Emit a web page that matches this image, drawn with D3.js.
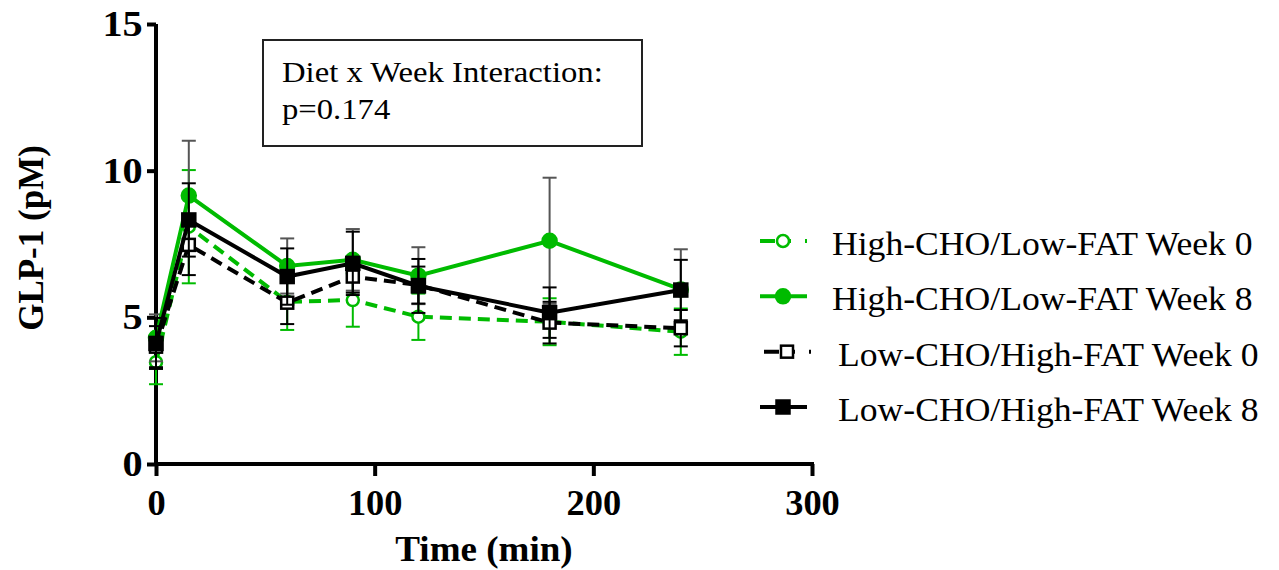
<!DOCTYPE html>
<html>
<head>
<meta charset="utf-8">
<script src="https://cdn.jsdelivr.net/npm/d3@7"></script>
<style>
  body { margin: 0; background: #fff; }
  svg { display: block; }
</style>
</head>
<body>
<script>
// time points (min)
var times = [0, 15, 60, 90, 120, 180, 240];

// GLP-1 means and SEM
var hcW0 = [3.47, 8.09, 5.53, 5.59, 5.02, 4.85, 4.51];
var hcW0Sem = [0.75, 1.93, 0.96, 0.91, 0.79, 0.80, 0.79];
var hcW8 = [4.30, 9.15, 6.75, 6.96, 6.42, 7.61, 5.95];
var hcW8Sem = [0.80, 1.87, 0.94, 1.05, 0.97, 2.15, 1.37];
var lcW0 = [4.00, 7.47, 5.50, 6.39, 6.10, 4.82, 4.63];
var lcW0Sem = [0.70, 1.03, 0.73, 0.55, 0.63, 0.71, 0.62];
var lcW8 = [4.11, 8.32, 6.39, 6.84, 6.07, 5.16, 5.93];
var lcW8Sem = [0.87, 1.25, 0.96, 1.08, 0.92, 0.86, 1.03];

var seriesNames = ["High-CHO/Low-FAT Week 0", "High-CHO/Low-FAT Week 8",
                   "Low-CHO/High-FAT Week 0", "Low-CHO/High-FAT Week 8"];
var xTicks = [0, 100, 200, 300];
var yTicks = [0, 5, 10, 15];

var green = "#00bb00";
var series = [
  { name: seriesNames[0], vals: hcW0, sem: hcW0Sem, color: green, bar: green, dash: "12,7", shape: "circle", fill: false },
  { name: seriesNames[1], vals: hcW8, sem: hcW8Sem, color: green, bar: "#555", dash: null, shape: "circle", fill: true },
  { name: seriesNames[2], vals: lcW0, sem: lcW0Sem, color: "#000", bar: "#000", dash: "12,7", shape: "square", fill: false },
  { name: seriesNames[3], vals: lcW8, sem: lcW8Sem, color: "#000", bar: "#000", dash: null, shape: "square", fill: true }
];

var W = 1279, H = 570;
var svg = d3.select("body").append("svg").attr("width", W).attr("height", H);

var x = d3.scaleLinear().domain([0, 300]).range([156, 812]);
var y = d3.scaleLinear().domain([0, 15]).range([464, 24]);

var serif = "'Liberation Serif', 'Times New Roman', serif";

// text stretched a little sideways like the source figure
function label(tx, ty, str, size, bold, sx, anchor) {
  return svg.append("text")
    .attr("transform", "translate(" + tx + "," + ty + ") scale(" + sx + ",1)")
    .attr("text-anchor", anchor || "start")
    .style("font-family", serif).style("font-weight", bold ? "bold" : "normal")
    .style("font-size", size + "px")
    .text(str);
}

// axes
var yAxis = svg.append("g").attr("transform", "translate(156,0)")
  .call(d3.axisLeft(y).tickValues(yTicks).tickSize(9));
var xAxis = svg.append("g").attr("transform", "translate(0,464)")
  .call(d3.axisBottom(x).tickValues(xTicks).tickSize(12));

[yAxis, xAxis].forEach(function (a) {
  a.select(".domain").attr("stroke", "#000").attr("stroke-width", 4);
  a.selectAll(".tick line").attr("stroke", "#000").attr("stroke-width", 4);
  a.selectAll("text").attr("fill", "#000")
    .style("font-family", serif).style("font-weight", "bold").style("font-size", "35px");
});
yAxis.select(".domain").attr("d", "M0,24V466");
xAxis.select(".domain").attr("d", "M154,0H814");
yAxis.selectAll(".tick text").attr("x", -11.6).attr("dy", "0.33em").attr("transform", "scale(1.15,1)");
xAxis.selectAll(".tick text").attr("y", 51).attr("dy", 0).attr("transform", "scale(1.04,1)");

// axis titles
label(484, 561, "Time (min)", 36, true, 1.03, "middle");
svg.append("text").attr("transform", "translate(43,238) rotate(-90)").attr("text-anchor", "middle")
  .style("font-family", serif).style("font-weight", "bold").style("font-size", "35px")
  .text("GLP-1 (pM)");

// annotation box
svg.append("rect").attr("x", 263).attr("y", 40).attr("width", 379).attr("height", 106)
  .attr("fill", "none").attr("stroke", "#222").attr("stroke-width", 2);
label(282, 82, "Diet x Week Interaction:", 30, false, 1.09);
label(282, 119, "p=0.174", 30, false, 1.09);

function drawMarker(g, s, cx, cy) {
  if (s.shape === "circle") {
    g.append("circle").attr("cx", cx).attr("cy", cy).attr("r", s.fill ? 7 : 6)
      .attr("fill", s.fill ? s.color : "#fff").attr("stroke", s.color).attr("stroke-width", 2.5);
  } else {
    var sz = s.fill ? 13 : 12;
    g.append("rect").attr("x", cx - sz / 2).attr("y", cy - sz / 2).attr("width", sz).attr("height", sz)
      .attr("fill", s.fill ? s.color : "#fff").attr("stroke", s.color).attr("stroke-width", 2.5);
  }
}

var line = d3.line().x(function (d) { return x(d[0]); }).y(function (d) { return y(d[1]); });

series.forEach(function (s) {
  var g = svg.append("g");
  var pts = times.map(function (t, i) { return [t, s.vals[i], s.sem[i]]; });
  // error bars
  pts.forEach(function (p) {
    var cx = x(p[0]), top = y(p[1] + p[2]), bot = y(p[1] - p[2]);
    g.append("line").attr("x1", cx).attr("x2", cx).attr("y1", top).attr("y2", bot)
      .attr("stroke", s.bar).attr("stroke-width", 2);
    [top, bot].forEach(function (yy) {
      g.append("line").attr("x1", cx - 7).attr("x2", cx + 7).attr("y1", yy).attr("y2", yy)
        .attr("stroke", s.bar).attr("stroke-width", 2);
    });
  });
  g.append("path").datum(pts).attr("d", line).attr("fill", "none")
    .attr("stroke", s.color).attr("stroke-width", 4)
    .attr("stroke-dasharray", s.dash);
  pts.forEach(function (p) { drawMarker(g, s, x(p[0]), y(p[1])); });
});

// legend
var legY = d3.scaleLinear().domain([0, 3]).range([241, 407]);
series.forEach(function (s, i) {
  var g = svg.append("g");
  var ly = legY(i);
  var off = s.shape === "square" && !s.fill ? 4 : 0;
  g.append("line").attr("x1", 760 + off).attr("x2", 807 + off).attr("y1", ly).attr("y2", ly)
    .attr("stroke", s.color).attr("stroke-width", 4)
    .attr("stroke-dasharray", s.dash ? "15,7,9,14,4" : null);
  drawMarker(g, s, 783 + off, ly);
  label(s.shape === "square" ? 838 : 832, ly + 14, s.name, 33, false, 1.08);
});
</script>
</body>
</html>
